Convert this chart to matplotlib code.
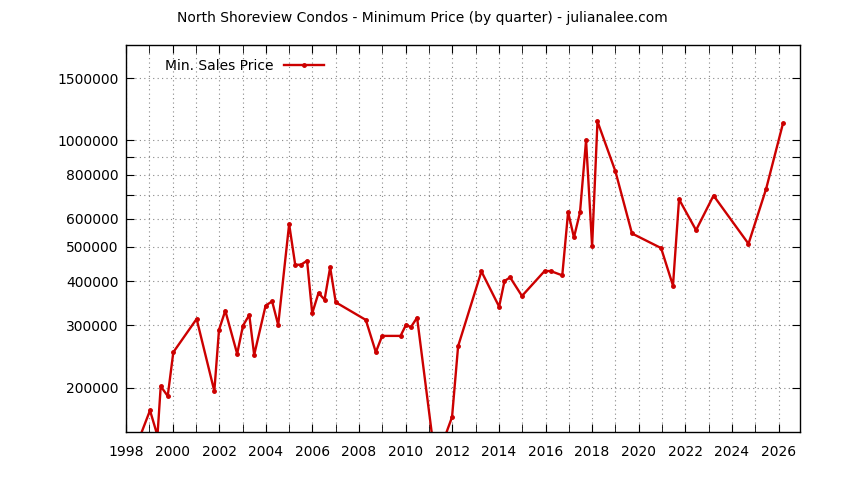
import numpy as np
import matplotlib
matplotlib.use('Agg')
import matplotlib.pyplot as plt
from matplotlib.ticker import FixedLocator, NullFormatter, FixedFormatter, MultipleLocator

# quarter positions (decimal year) and minimum sale price
years = [1998.5, 1999.03, 1999.35, 1999.49, 1999.79, 2000.03, 2001.03, 2001.79, 2001.99,
         2002.26, 2002.77, 2003.02, 2003.29, 2003.50, 2003.99, 2004.27, 2004.53, 2005.0,
         2005.26, 2005.50, 2005.77, 2005.99, 2006.26, 2006.52, 2006.76, 2007.0, 2008.29,
         2008.72, 2008.99, 2009.78, 2010.02, 2010.22, 2010.49, 2011.28, 2011.99, 2012.25,
         2013.25, 2014.01, 2014.24, 2014.48, 2014.99, 2015.96, 2016.22, 2016.72, 2016.97,
         2017.22, 2017.48, 2017.74, 2018.0, 2018.23, 2019.0, 2019.71, 2020.96, 2021.47,
         2021.73, 2022.46, 2023.21, 2024.71, 2025.47, 2026.19]
prices = [140000, 172600, 146500, 202000, 189500, 252000, 313000, 195700, 291400,
          330300, 249400, 299700, 321200, 247700, 341200, 351000, 301000, 580000,
          445300, 445300, 456900, 324700, 370600, 354800, 437800, 348800, 311000,
          252100, 280300, 280300, 301700, 296500, 315600, 123000, 165300, 262100,
          426500, 339000, 400400, 410200, 363400, 427400, 427400, 415600, 626900,
          531800, 625600, 1000000, 502800, 1131000, 817600, 545800, 496300, 388600,
          681800, 557600, 698400, 510300, 730900, 1117000]

ytick_vals = [200000, 300000, 400000, 500000, 600000, 700000, 800000, 900000, 1000000, 1500000]
ytick_labels = ['200000', '300000', '400000', '500000', '600000', '', '800000', '', '1000000', '1500000']
xtick_vals = list(range(1998, 2027, 2))

plt.rcParams['font.family'] = ['DejaVu Sans']

fig = plt.figure(figsize=(8.44, 4.8), dpi=100)
ax = fig.add_axes([126/844, 1-432/480, (800-126)/844, (432-45)/480])

ax.plot(years, prices, color='#cc0000', lw=1.7, marker='o', ms=2.5, label='Min. Sales Price')

ax.set_yscale('log')
ax.set_ylim(150000, 1860000)
ax.set_xlim(1998, 2026.92)

ax.yaxis.set_major_locator(FixedLocator(ytick_vals))
ax.yaxis.set_major_formatter(FixedFormatter(ytick_labels))
ax.yaxis.set_minor_locator(FixedLocator([]))
ax.yaxis.set_minor_formatter(NullFormatter())
ax.xaxis.set_major_locator(FixedLocator(xtick_vals))
ax.xaxis.set_minor_locator(MultipleLocator(1))

ax.tick_params(which='both', direction='in', top=True, right=True, labelsize=10, color='black')
ax.tick_params(which='both', length=6)
ax.tick_params(axis='y', pad=5.5)
ax.tick_params(axis='x', pad=9)

ax.grid(True, which='both', color='#888888', ls=(0, (1, 3)), lw=0.8)
for s in ax.spines.values():
    s.set_linewidth(1.0)

ax.legend(loc='upper left', frameon=False, markerfirst=False, fontsize=10,
          handlelength=2.9, handletextpad=0.7, bbox_to_anchor=(0.043, 0.992), borderaxespad=0.35)

fig.text(422/844, 1-18/480, 'North Shoreview Condos - Minimum Price (by quarter) - julianalee.com',
         ha='center', va='center', fontsize=10)

fig.savefig('out.png', dpi=100)
